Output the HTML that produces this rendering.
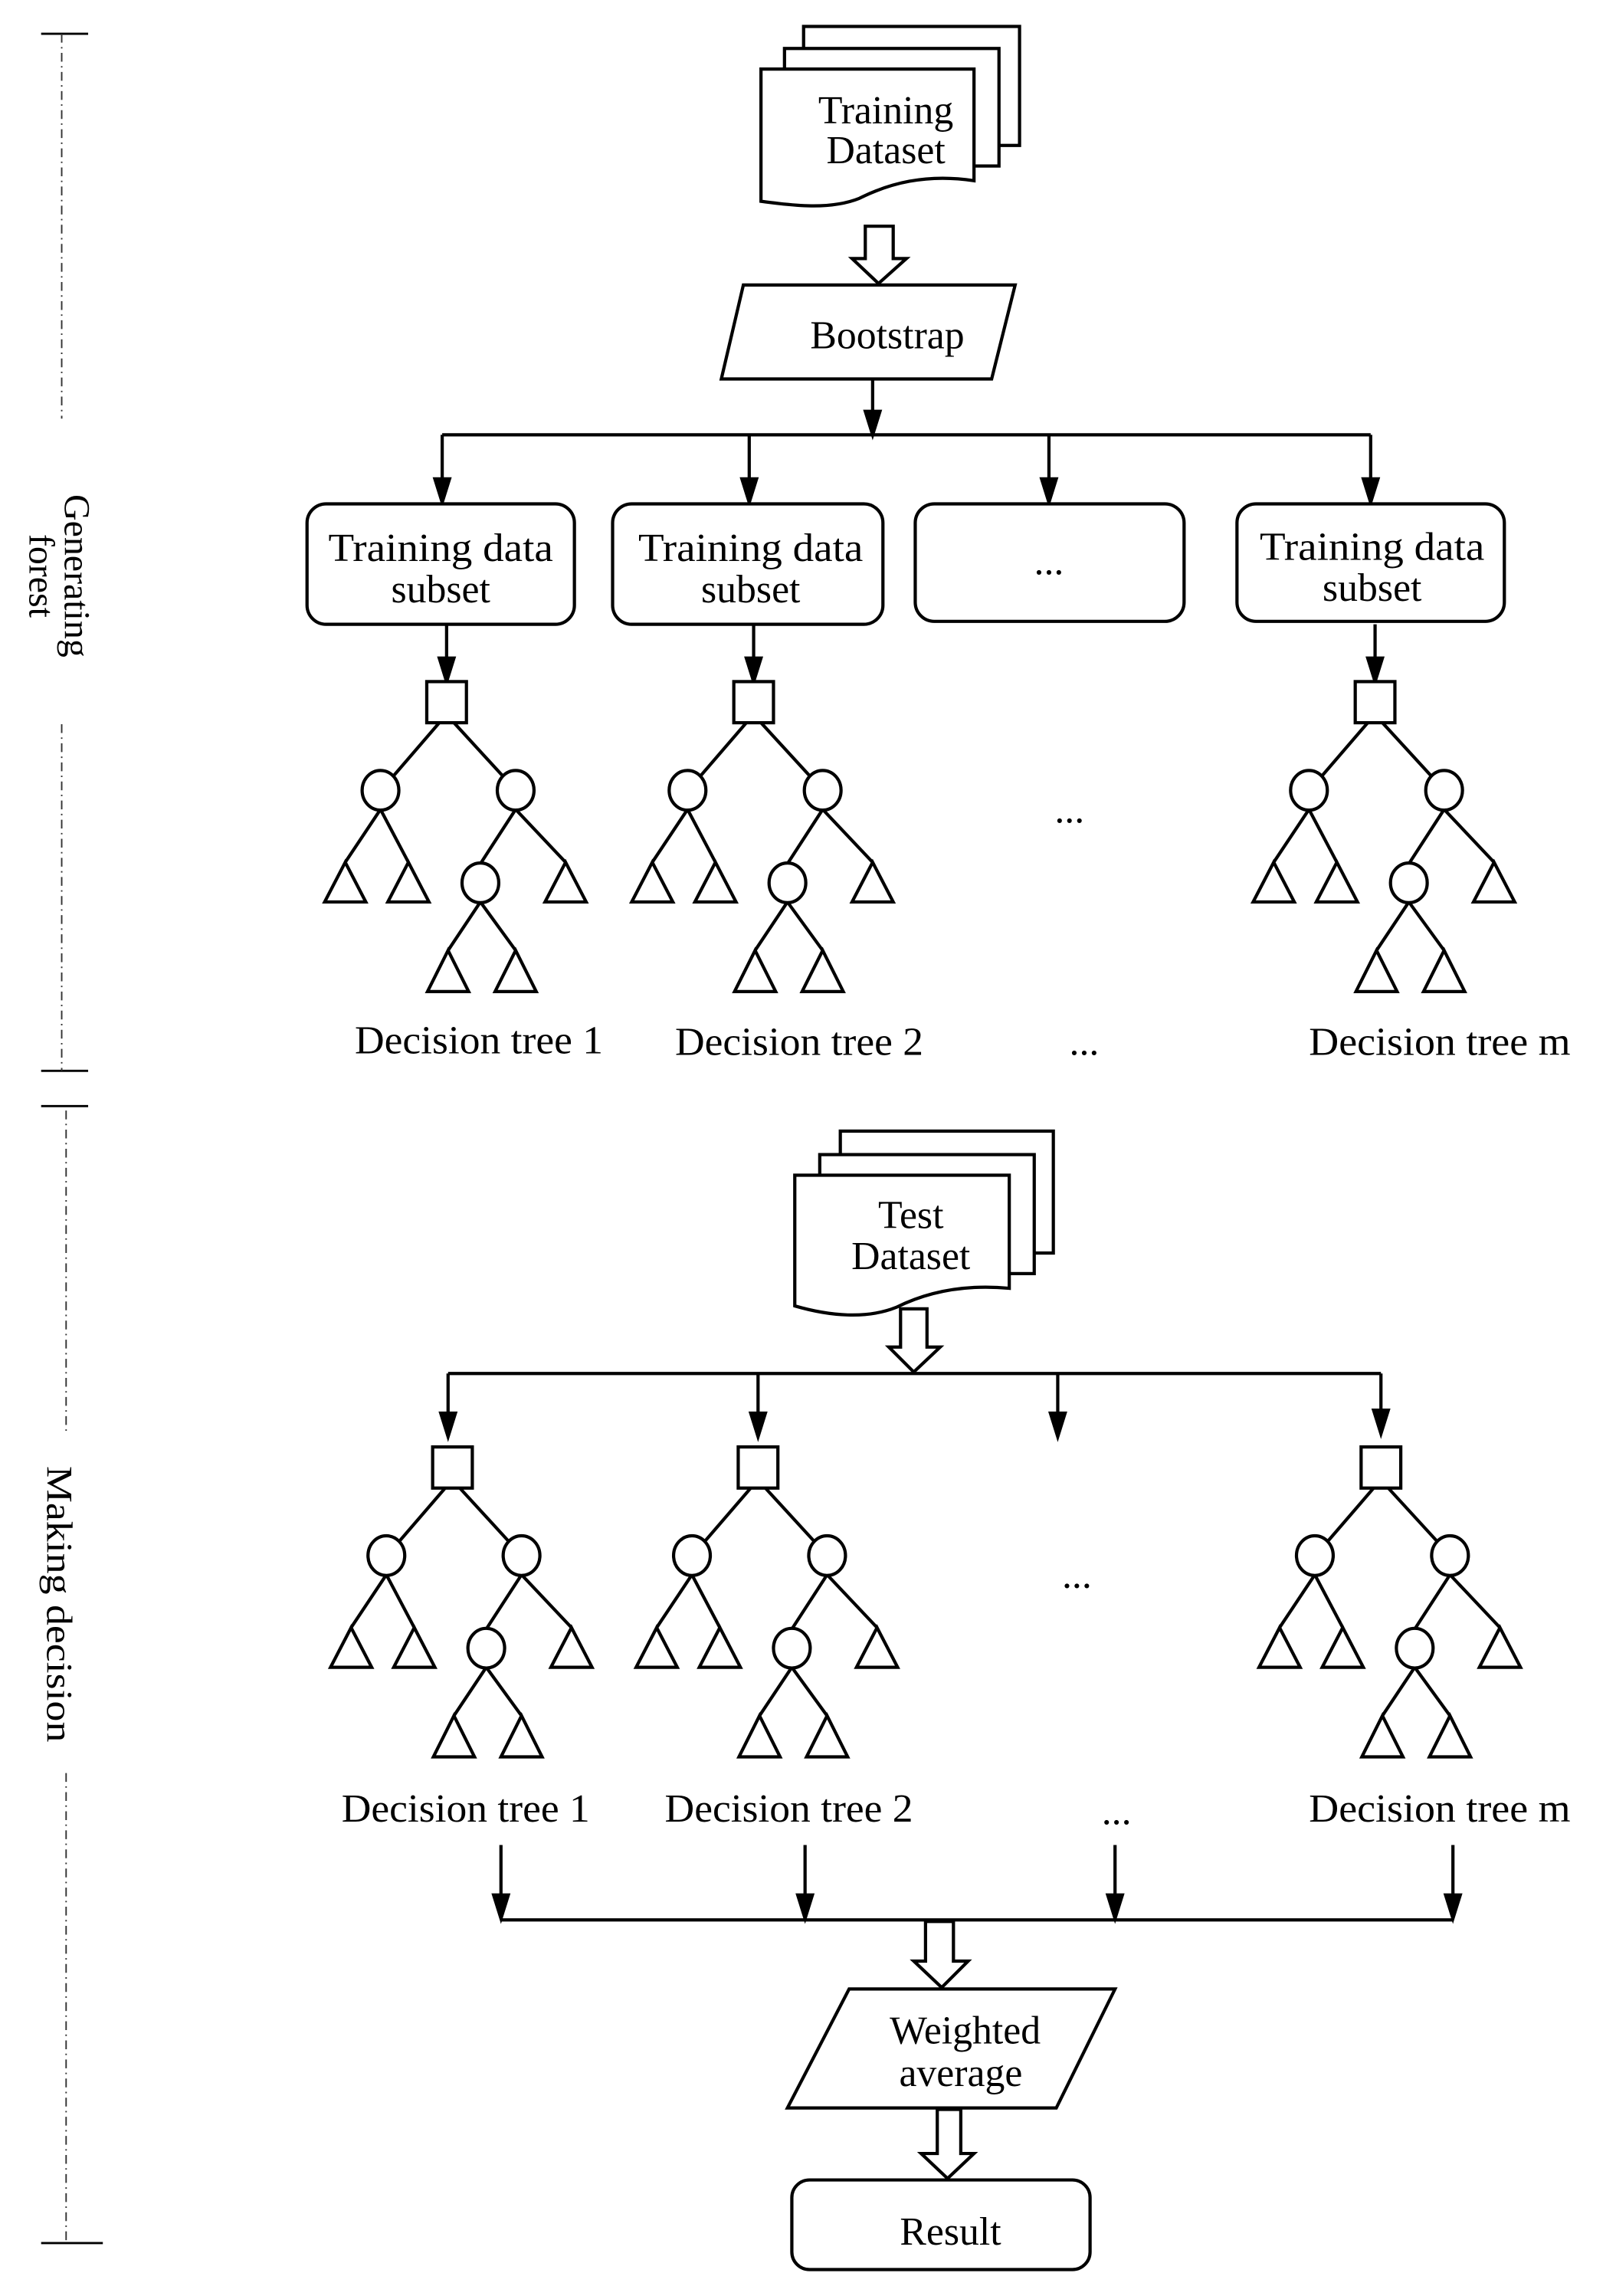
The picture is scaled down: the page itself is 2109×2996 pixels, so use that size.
<!DOCTYPE html>
<html><head><meta charset="utf-8"><style>html,body{margin:0;padding:0;background:#fff}svg{display:block}</style></head>
<body>
<svg xmlns="http://www.w3.org/2000/svg" width="2109" height="2996" viewBox="0 0 1100 1563" preserveAspectRatio="none" font-family="'Liberation Serif', serif" fill="none" stroke="#000" stroke-width="2.2">
<defs>
<g id="tree">
  <rect x="-13.5" y="-14" width="27" height="28" fill="#fff"/>
  <line x1="-5" y1="14" x2="-36" y2="50"/>
  <line x1="5" y1="14" x2="38" y2="50"/>
  <ellipse cx="-45" cy="60" rx="12.5" ry="13.5" fill="#fff"/>
  <ellipse cx="47" cy="60" rx="12.5" ry="13.5" fill="#fff"/>
  <line x1="-45" y1="73" x2="-69" y2="109"/>
  <line x1="-45" y1="73" x2="-26" y2="109"/>
  <line x1="47" y1="73" x2="23" y2="110"/>
  <line x1="47" y1="73" x2="81" y2="109"/>
  <path d="M-69 109 L-83 136 L-55 136 Z M-26 109 L-40 136 L-12 136 Z M81 109 L67 136 L95 136 Z" fill="#fff"/>
  <ellipse cx="23" cy="123" rx="12.5" ry="13.5" fill="#fff"/>
  <line x1="23" y1="136" x2="1" y2="169"/>
  <line x1="23" y1="136" x2="47" y2="169"/>
  <path d="M1 169 L-13 197 L15 197 Z M47 169 L33 197 L61 197 Z" fill="#fff"/>
</g>
</defs>

<!-- left axis -->
<g stroke-width="1.5">
  <line x1="28" y1="23" x2="60" y2="23"/>
  <line x1="28" y1="729" x2="60" y2="729"/>
  <line x1="28" y1="753" x2="60" y2="753"/>
  <line x1="28" y1="1527" x2="70" y2="1527"/>
</g>
<g stroke-width="1" stroke="#333">
  <line x1="42" y1="23" x2="42" y2="285" stroke-dasharray="6 3 1 3"/>
  <line x1="42" y1="493" x2="42" y2="729" stroke-dasharray="6 3 1 3"/>
  <line x1="45" y1="756" x2="45" y2="977" stroke-dasharray="6 3 1 3"/>
  <line x1="45" y1="1207" x2="45" y2="1527" stroke-dasharray="6 3 1 3"/>
</g>
<g fill="#000" stroke="none" font-size="25" text-anchor="middle">
  <text transform="translate(40,392) rotate(90)"><tspan x="0" y="-4">Generating</tspan><tspan x="0" y="20">forest</tspan></text>
  <text transform="translate(38,1092) rotate(90)" x="0" y="6" textLength="188" lengthAdjust="spacingAndGlyphs">Making decision</text>
</g>

<!-- Training dataset stack -->
<rect x="547" y="18" width="147" height="81" fill="#fff"/>
<rect x="534" y="33" width="146" height="80" fill="#fff"/>
<path d="M518 47 H663 V123 C630 118 605 125 585 135 C565 143 540 140 518 137 Z" fill="#fff"/>
<g fill="#000" stroke="none" font-size="27" text-anchor="middle">
  <text x="603" y="84">Training</text>
  <text x="603" y="111">Dataset</text>
</g>
<path d="M589 154 H608 V176 H617 L598 193 L580 176 H589 Z" fill="#fff"/>
<path d="M506 194 H691 L675 258 H491 Z" fill="#fff"/>
<text x="604" y="237" fill="#000" stroke="none" font-size="27" text-anchor="middle">Bootstrap</text>

<line x1="594" y1="258" x2="594" y2="284"/>
<path d="M589 280 L599 280 L594 296 Z" fill="#000"/>
<line x1="301" y1="296" x2="933" y2="296"/>
<g>
  <line x1="301" y1="296" x2="301" y2="330"/><path d="M296 326 L306 326 L301 342 Z" fill="#000"/>
  <line x1="510" y1="296" x2="510" y2="330"/><path d="M505 326 L515 326 L510 342 Z" fill="#000"/>
  <line x1="714" y1="296" x2="714" y2="330"/><path d="M709 326 L719 326 L714 342 Z" fill="#000"/>
  <line x1="933" y1="296" x2="933" y2="330"/><path d="M928 326 L938 326 L933 342 Z" fill="#000"/>
</g>
<rect x="209" y="343" width="182" height="82" rx="13" fill="#fff"/>
<rect x="417" y="343" width="184" height="82" rx="13" fill="#fff"/>
<rect x="623" y="343" width="183" height="80" rx="13" fill="#fff"/>
<rect x="842" y="343" width="182" height="80" rx="13" fill="#fff"/>
<g fill="#000" stroke="none" font-size="27" text-anchor="middle">
  <text x="300" y="382" textLength="153" lengthAdjust="spacingAndGlyphs">Training data</text><text x="300" y="410">subset</text>
  <text x="511" y="382" textLength="153" lengthAdjust="spacingAndGlyphs">Training data</text><text x="511" y="410">subset</text>
  <text x="714" y="391">...</text>
  <text x="934" y="381" textLength="153" lengthAdjust="spacingAndGlyphs">Training data</text><text x="934" y="409">subset</text>
</g>
<line x1="304" y1="425" x2="304" y2="452"/><path d="M299 448 L309 448 L304 464 Z" fill="#000"/>
<line x1="513" y1="425" x2="513" y2="452"/><path d="M508 448 L518 448 L513 464 Z" fill="#000"/>
<line x1="936" y1="425" x2="936" y2="452"/><path d="M931 448 L941 448 L936 464 Z" fill="#000"/>

<use href="#tree" x="304" y="478"/>
<use href="#tree" x="513" y="478"/>
<use href="#tree" x="936" y="478"/>
<g fill="#000" stroke="none" font-size="27" text-anchor="middle">
  <text x="728" y="560">...</text>
  <text x="326" y="717" textLength="169" lengthAdjust="spacingAndGlyphs">Decision tree 1</text>
  <text x="544" y="718" textLength="169" lengthAdjust="spacingAndGlyphs">Decision tree 2</text>
  <text x="738" y="718">...</text>
  <text x="980" y="718" textLength="178" lengthAdjust="spacingAndGlyphs">Decision tree m</text>
</g>

<!-- Test dataset stack -->
<rect x="572" y="770" width="145" height="83" fill="#fff"/>
<rect x="558" y="786" width="146" height="81" fill="#fff"/>
<path d="M541 800 H687 V877 C655 874 630 880 610 890 C590 898 565 896 541 889 Z" fill="#fff"/>
<g fill="#000" stroke="none" font-size="27" text-anchor="middle">
  <text x="620" y="836">Test</text>
  <text x="620" y="864">Dataset</text>
</g>
<path d="M613 891 H631 V917 H640 L622 934 L605 917 H613 Z" fill="#fff"/>
<line x1="305" y1="935" x2="940" y2="935"/>
<g>
  <line x1="305" y1="935" x2="305" y2="966"/><path d="M300 962 L310 962 L305 978 Z" fill="#000"/>
  <line x1="516" y1="935" x2="516" y2="966"/><path d="M511 962 L521 962 L516 978 Z" fill="#000"/>
  <line x1="720" y1="935" x2="720" y2="966"/><path d="M715 962 L725 962 L720 978 Z" fill="#000"/>
  <line x1="940" y1="935" x2="940" y2="964"/><path d="M935 960 L945 960 L940 976 Z" fill="#000"/>
</g>
<use href="#tree" x="308" y="999"/>
<use href="#tree" x="516" y="999"/>
<use href="#tree" x="940" y="999"/>
<g fill="#000" stroke="none" font-size="27" text-anchor="middle">
  <text x="733" y="1081">...</text>
  <text x="317" y="1240" textLength="169" lengthAdjust="spacingAndGlyphs">Decision tree 1</text>
  <text x="537" y="1240" textLength="169" lengthAdjust="spacingAndGlyphs">Decision tree 2</text>
  <text x="760" y="1242">...</text>
  <text x="980" y="1240" textLength="178" lengthAdjust="spacingAndGlyphs">Decision tree m</text>
</g>
<g>
  <line x1="341" y1="1256" x2="341" y2="1292"/><path d="M336 1290 L346 1290 L341 1306 Z" fill="#000"/>
  <line x1="548" y1="1256" x2="548" y2="1292"/><path d="M543 1290 L553 1290 L548 1306 Z" fill="#000"/>
  <line x1="759" y1="1256" x2="759" y2="1292"/><path d="M754 1290 L764 1290 L759 1306 Z" fill="#000"/>
  <line x1="989" y1="1256" x2="989" y2="1292"/><path d="M984 1290 L994 1290 L989 1306 Z" fill="#000"/>
</g>
<line x1="341" y1="1307" x2="989" y2="1307"/>
<path d="M630 1308 H649 V1335 H659 L641 1353 L622 1335 H630 Z" fill="#fff"/>
<path d="M578 1354 H759 L719 1435 H536 Z" fill="#fff"/>
<g fill="#000" stroke="none" font-size="27" text-anchor="middle">
  <text x="657" y="1391">Weighted</text>
  <text x="654" y="1420">average</text>
</g>
<path d="M638 1436 H654 V1466 H663 L645 1483 L627 1466 H638 Z" fill="#fff"/>
<rect x="539" y="1484" width="203" height="61" rx="12" fill="#fff"/>
<text x="647" y="1528" fill="#000" stroke="none" font-size="27" text-anchor="middle">Result</text>
</svg>
</body></html>
